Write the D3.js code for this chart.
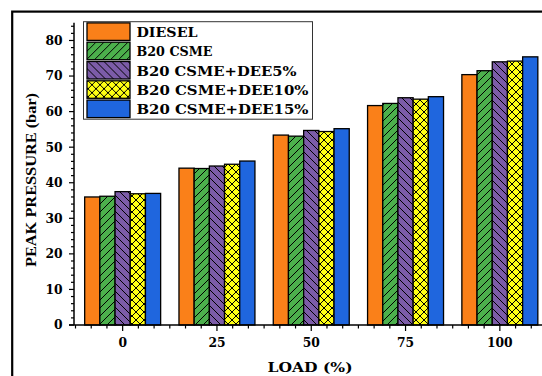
<!DOCTYPE html>
<html><head><meta charset="utf-8">
<script src="https://cdn.jsdelivr.net/npm/d3@7"></script>
<style>body{margin:0;background:#fff} svg{display:block}</style>
</head><body>
<svg id="c" width="542" height="376"></svg>
<script>
// ---- data ----
const loads = [0, 25, 50, 75, 100];
const seriesNames = ["DIESEL", "B20 CSME", "B20 CSME+DEE5%", "B20 CSME+DEE10%", "B20 CSME+DEE15%"];
const diesel = [36.0, 44.1, 53.4, 61.7, 70.4];
const b20csme = [36.2, 44.0, 53.1, 62.3, 71.5];
const dee5 = [37.5, 44.7, 54.7, 63.9, 74.0];
const dee10 = [36.9, 45.2, 54.4, 63.5, 74.2];
const dee15 = [37.0, 46.1, 55.2, 64.2, 75.4];
const yTickValues = [0, 10, 20, 30, 40, 50, 60, 70, 80];
const xTickValues = [0, 25, 50, 75, 100];
const xTitle = "LOAD (%)";
const yTitle = "PEAK PRESSURE (bar)";

// ---- styles ----
const colors = ["#fa8019", "#4cb04c", "#7c5ca8", "#ffff14", "#1f66de"];
const hatches = ["none", "fwd", "back", "cross", "none"];
const legendTextWidths = [61, 76, 160, 172, 172];

const seriesValues = [diesel, b20csme, dee5, dee10, dee15];
const series = seriesNames.map((name, i) => ({
  name, i, values: loads.map((l, j) => ({load: l, value: seriesValues[i][j]}))
}));

const svg = d3.select("#c");
const x = d3.scaleLinear().domain([-12.9, 112.5]).range([74, 547]);
const y = d3.scaleLinear().domain([0, 85]).range([325, 22.7]);
const inner = d3.scaleBand().domain(seriesNames).range([-10.07, 10.07]).padding(0);

// patterns
const defs = svg.append("defs");
series.forEach(s => {
  const p = defs.append("pattern").attr("id", "pat" + s.i)
    .attr("patternUnits", "userSpaceOnUse").attr("width", 8).attr("height", 8);
  p.append("rect").attr("width", 8).attr("height", 8).attr("fill", colors[s.i]);
  const h = hatches[s.i];
  let d = "";
  if (h === "fwd" || h === "cross") d += "M-2,2L2,-2M0,8L8,0M6,10L10,6";
  if (h === "back" || h === "cross") d += "M-2,6L2,10M0,0L8,8M6,-2L10,2";
  if (d) p.append("path").attr("d", d).attr("stroke", "#000").attr("stroke-width", 1).attr("fill", "none");
});

// outer frame
svg.append("rect").attr("x", 12.2).attr("y", 11.6).attr("width", 560).attr("height", 400)
  .attr("fill", "none").attr("stroke", "#000").attr("stroke-width", 2.2);

// bars
const bw = x(inner.bandwidth()) - x(0);
svg.append("g").selectAll("g").data(series).join("g")
  .selectAll("rect").data(s => s.values.map(v => ({...v, s})))
  .join("rect")
  .attr("x", d => x(d.load + inner(d.s.name)))
  .attr("y", d => y(d.value))
  .attr("width", bw)
  .attr("height", d => y(0) - y(d.value))
  .attr("fill", d => `url(#pat${d.s.i})`)
  .attr("stroke", "#000").attr("stroke-width", 1.3);

// y axis
const yMinor = d3.range(0, 85.01, 2);
const gy = svg.append("g").attr("transform", `translate(${x.range()[0]},0)`);
gy.append("line").attr("y1", y(0)).attr("y2", y(85)).attr("stroke", "#000").attr("stroke-width", 1.5);
gy.selectAll(".mn").data(yMinor).join("line")
  .attr("x1", 0).attr("x2", d => d % 10 === 0 ? -5 : -3)
  .attr("y1", d => y(d)).attr("y2", d => y(d)).attr("stroke", "#000").attr("stroke-width", 1.2);
gy.selectAll("text").data(yTickValues).join("text")
  .attr("x", -11.5).attr("y", d => y(d)).attr("dy", "0.36em")
  .attr("text-anchor", "end")
  .attr("font-family", "DejaVu Serif").attr("font-weight", "bold").attr("font-size", 12.3)
  .text(d => d);

// x axis
const xMinor = d3.range(-3, 28).map(k => k * 25 / 6);
const gx = svg.append("g").attr("transform", `translate(0,${y(0)})`);
gx.append("line").attr("x1", x.range()[0] - 5).attr("x2", 542).attr("stroke", "#000").attr("stroke-width", 1.5);
gx.selectAll(".mn").data(xMinor).join("line")
  .attr("x1", d => x(d)).attr("x2", d => x(d))
  .attr("y1", 0).attr("y2", (d, i) => ((i - 3) % 6 === 0) ? 6 : 3.5)
  .attr("stroke", "#000").attr("stroke-width", 1.2);
gx.selectAll("text").data(xTickValues).join("text")
  .attr("x", d => x(d)).attr("y", 21.7)
  .attr("text-anchor", "middle")
  .attr("font-family", "DejaVu Serif").attr("font-weight", "bold").attr("font-size", 12.3)
  .text(d => d);

// axis titles
svg.append("text").attr("x", 310).attr("y", 371.5).attr("text-anchor", "middle")
  .attr("font-family", "DejaVu Serif").attr("font-weight", "bold").attr("font-size", 12.5)
  .attr("textLength", 85).attr("lengthAdjust", "spacingAndGlyphs")
  .text(xTitle);
svg.append("text").attr("transform", "translate(36,180) rotate(-90)").attr("text-anchor", "middle")
  .attr("font-family", "Liberation Serif").attr("font-weight", "bold").attr("font-size", 14.5)
  .attr("textLength", 174).attr("lengthAdjust", "spacingAndGlyphs")
  .text(yTitle);

// legend
const lg = svg.append("g");
lg.append("rect").attr("x", 83.5).attr("y", 21.7).attr("width", 229).attr("height", 97.5)
  .attr("fill", "#fff").attr("stroke", "#333").attr("stroke-width", 1);
const items = lg.selectAll(".it").data(series).join("g")
  .attr("transform", d => `translate(0,${22.9 + d.i * 19.3})`);
items.append("rect").attr("x", 87).attr("y", 0).attr("width", 43).attr("height", 17.5)
  .attr("fill", d => `url(#pat${d.i})`).attr("stroke", "#000").attr("stroke-width", 1.3);
items.append("text").attr("x", 136.5).attr("y", 14.2)
  .attr("font-family", "DejaVu Serif").attr("font-weight", "bold").attr("font-size", 13.3)
  .attr("textLength", d => legendTextWidths[d.i]).attr("lengthAdjust", "spacingAndGlyphs")
  .text(d => d.name);
</script>
</body></html>
